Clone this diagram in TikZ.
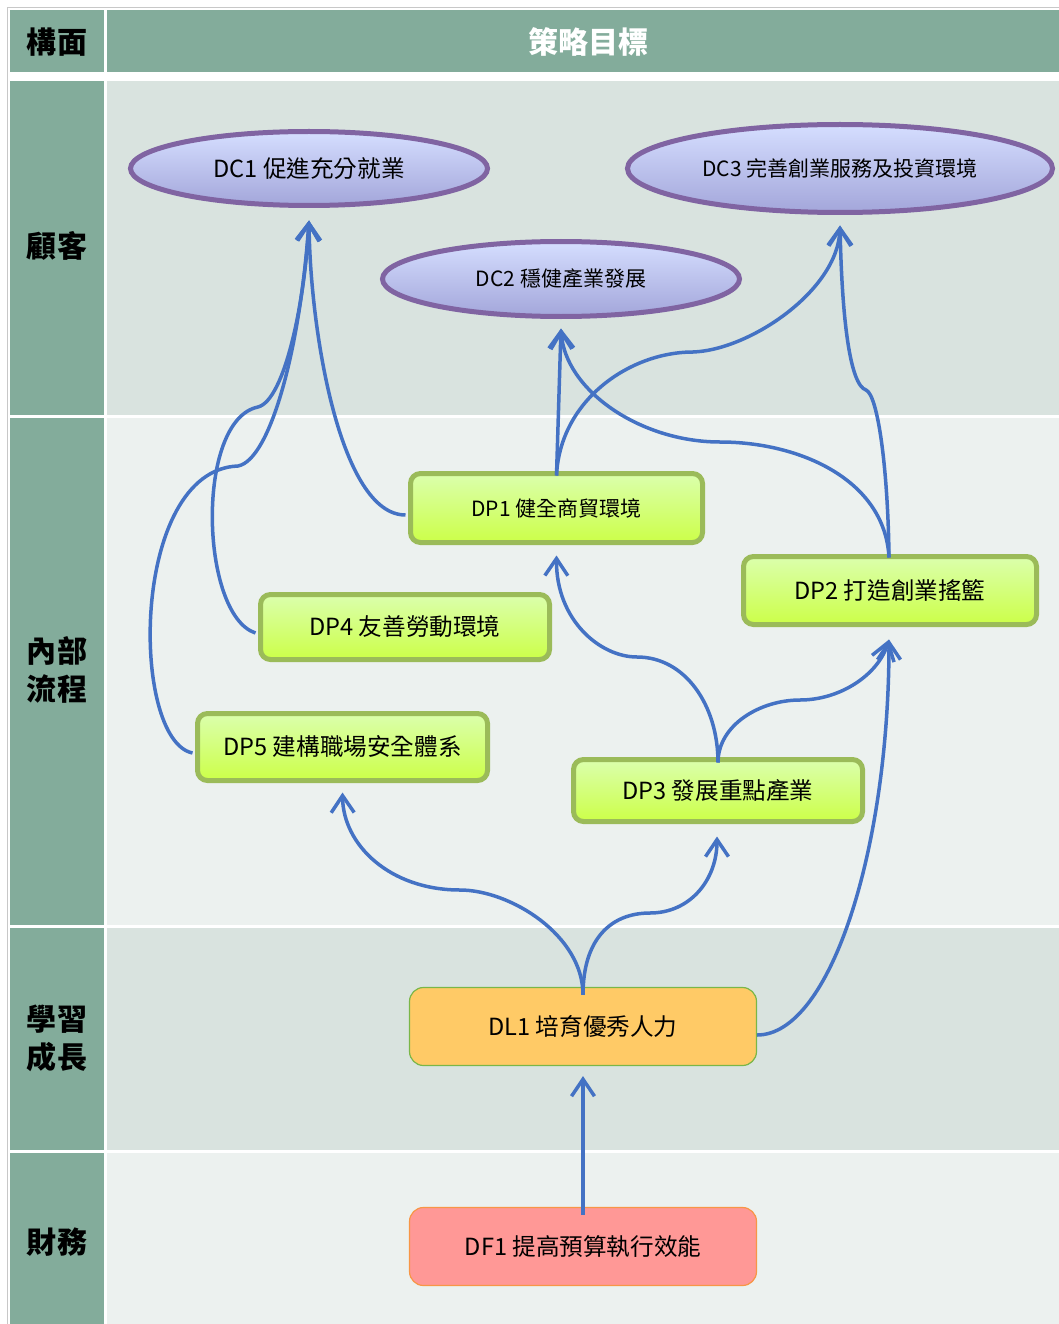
\documentclass[tikz,border=0pt]{standalone}
\usepackage{fontspec}
\setmainfont{Noto Sans CJK TC}
\usetikzlibrary{arrows.meta,shapes.geometric}
\definecolor{hdr}{HTML}{83AC9B}
\definecolor{rowA}{HTML}{D9E3DF}
\definecolor{rowB}{HTML}{ECF1EF}
\definecolor{framegray}{HTML}{C8C8C8}
\definecolor{arrowblue}{HTML}{4472C4}
\definecolor{ellborder}{HTML}{8064A2}
\definecolor{elltop}{HTML}{D5DEFF}
\definecolor{ellbot}{HTML}{A3A6DA}
\definecolor{gborder}{HTML}{9BBB59}
\definecolor{gtop}{HTML}{DBFFAD}
\definecolor{gbot}{HTML}{CCFF48}
\definecolor{orangefill}{HTML}{FFCA66}
\definecolor{orangeborder}{HTML}{7AB648}
\definecolor{redfill}{HTML}{FF9896}
\definecolor{redborder}{HTML}{F79646}
\begin{document}
\begin{tikzpicture}[x=1pt,y=-1pt,
 goal/.style={ellipse, draw=ellborder, line width=5pt, top color=elltop, bottom color=ellbot, inner sep=0pt},
 proc/.style={rectangle, rounded corners=10pt, draw=gborder, line width=5pt, top color=gtop, bottom color=gbot, inner sep=0pt},
 learn/.style={rectangle, rounded corners=14pt, draw=orangeborder, line width=1.2pt, fill=orangefill, inner sep=0pt, minimum width=347pt, minimum height=78pt},
 fin/.style={rectangle, rounded corners=14pt, draw=redborder, line width=1.2pt, fill=redfill, inner sep=0pt, minimum width=347pt, minimum height=78pt},
 link/.style={draw=arrowblue, line width=3.5pt, -{Straight Barb[length=17pt,width=23pt]}},
 bigtxt/.style={font=\fontsize{23.6}{28}\selectfont},
 smalltxt/.style={font=\fontsize{21}{25}\selectfont},
 lbl/.style={font=\fontsize{30}{38}\selectfont\bfseries, align=center, inner sep=0pt}
]
\useasboundingbox (0,0) rectangle (1059,1324);
% table background
\fill[hdr] (10,10) rectangle (104,72);
\fill[hdr] (107,10) rectangle (1059,72);
\fill[hdr] (10,81) rectangle (104,415);
\fill[rowA] (107,81) rectangle (1059,415);
\fill[hdr] (10,418) rectangle (104,925);
\fill[rowB] (107,418) rectangle (1059,925);
\fill[hdr] (10,928) rectangle (104,1150);
\fill[rowA] (107,928) rectangle (1059,1150);
\fill[hdr] (10,1153) rectangle (104,1324);
\fill[rowB] (107,1153) rectangle (1059,1324);
\draw[framegray, line width=1pt] (7,1324) -- (7,8) -- (1059,8);
% labels
\node[lbl] (h1) at (57,42) {構面};
\node[lbl, text=white] (h2) at (588,42) {策略目標};
\node[lbl] (l1) at (57,246) {顧客};
\node[lbl] (l2) at (57,670) {內部\\流程};
\node[lbl] (l3) at (57,1038) {學習\\成長};
\node[lbl] (l4) at (57,1242) {財務};
% goals
\node[goal, minimum width=357pt, minimum height=74pt, bigtxt] (dc1) at (309,168.5) {DC1 促進充分就業};
\node[goal, minimum width=357pt, minimum height=75pt, smalltxt] (dc2) at (561,279) {DC2 穩健產業發展};
\node[goal, minimum width=425pt, minimum height=88pt, smalltxt] (dc3) at (840,168.5) {DC3 完善創業服務及投資環境};
\node[proc, minimum width=292pt, minimum height=69pt, smalltxt] (dp1) at (556.5,508) {DP1 健全商貿環境};
\node[proc, minimum width=293pt, minimum height=68pt, bigtxt] (dp2) at (890,590.5) {DP2 打造創業搖籃};
\node[proc, minimum width=289pt, minimum height=65pt, bigtxt] (dp4) at (405,627) {DP4 友善勞動環境};
\node[proc, minimum width=290pt, minimum height=67pt, bigtxt] (dp5) at (342.5,747) {DP5 建構職場安全體系};
\node[proc, minimum width=289pt, minimum height=62pt, bigtxt] (dp3) at (718,790.5) {DP3 發展重點產業};
\node[learn, bigtxt] (dl1) at (583,1026.5) {DL1 培育優秀人力};
\node[fin, bigtxt] (df1) at (583,1246.5) {DF1 提高預算執行效能};
% links
\draw[link] ([yshift=-8pt]df1.north) -- ([yshift=-10pt]dl1.south);
\draw[link] ([yshift=-8pt]dl1.north) .. controls (583,935) and (510,890) .. (460,890) .. controls (390,890) and (343,845) .. ([yshift=-9.5pt]dp5.south);
\draw[link] ([yshift=-8pt]dl1.north) .. controls (583,940) and (610,913) .. (650,913) .. controls (690,913) and (717,880) .. ([xshift=-1pt,yshift=-12.5pt]dp3.south);
\draw[link] ([yshift=-8.5pt]dl1.east) .. controls (830,1035) and (889,850) .. ([xshift=-1pt,yshift=-12.5pt]dp2.south);
\draw[link] ([yshift=-5.5pt]dp3.north) .. controls (718,705) and (685,657) .. (637,657) .. controls (600,657) and (556,620) .. ([yshift=-10.5pt]dp1.south);
\draw[link] ([yshift=-5.5pt]dp3.north) .. controls (718,725) and (760,700) .. (800,700) .. controls (840,700) and (878,675) .. ([xshift=-1pt,yshift=-12.5pt]dp2.south);
\draw[link] ([yshift=-4.5pt]dp1.north) -- ([yshift=-9.5pt]dc2.south);
\draw[link] ([yshift=-4.5pt]dp1.north) .. controls (560,400) and (630,352) .. (693,352) .. controls (750,350) and (838,290) .. ([yshift=-10.5pt]dc3.south);
\draw[link] ([xshift=-1pt,yshift=-3.5pt]dp2.north) .. controls (885,480) and (800,442) .. (720,442) .. controls (640,442) and (565,390) .. ([yshift=-9.5pt]dc2.south);
\draw[link] ([xshift=-1pt,yshift=-3.5pt]dp2.north) .. controls (888,470) and (878,395) .. (866,390) .. controls (850,385) and (842,320) .. ([yshift=-10.5pt]dc3.south);
\draw[link] ([xshift=-2.5pt,yshift=-7pt]dp1.west) .. controls (340,515) and (310,330) .. ([yshift=-12.5pt]dc1.south);
\draw[link] ([xshift=-2.5pt,yshift=-6pt]dp4.west) .. controls (200,615) and (195,420) .. (258,407) .. controls (285,400) and (305,300) .. ([yshift=-12.5pt]dc1.south);
\draw[link] ([xshift=-2.5pt,yshift=-6pt]dp5.west) .. controls (130,740) and (130,470) .. (238,466) .. controls (270,460) and (300,350) .. ([yshift=-12.5pt]dc1.south);
\end{tikzpicture}
\end{document}
